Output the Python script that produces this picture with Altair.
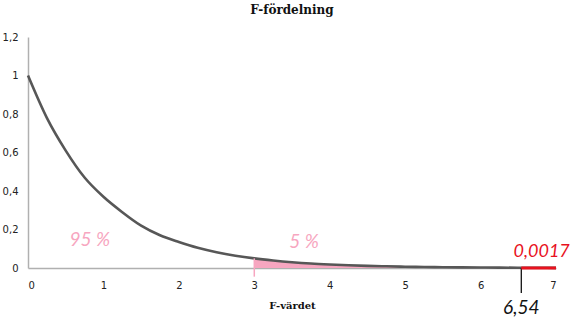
import altair as alt
import pandas as pd

# Curve values
fx = [0, 0.25, 0.5, 0.75, 1, 1.25, 1.5, 1.75, 2, 2.25, 2.5, 2.75, 3, 3.25, 3.5, 3.75,
      4, 4.25, 4.5, 4.75, 5, 5.25, 5.5, 5.75, 6, 6.25, 6.5, 6.75, 7]
fy = [1.0, 0.78, 0.61, 0.47, 0.37, 0.29, 0.22, 0.17, 0.135, 0.105, 0.082, 0.064, 0.05,
      0.039, 0.030, 0.023, 0.018, 0.014, 0.011, 0.0087, 0.0068, 0.0053, 0.0041, 0.0032,
      0.0025, 0.0019, 0.0015, 0.0012, 0.0009]

x_ticks = [0, 1, 2, 3, 4, 5, 6, 7]
y_ticks = [0, 0.2, 0.4, 0.6, 0.8, 1.0, 1.2]

crit_value = 6.54
tail_end = 7
shade_start = 3

labels_text = ["95 %", "5 %"]
labels_x = [0.82, 3.66]
labels_y = [0.145, 0.135]

p_label = "0,0017"
p_x, p_y = 6.81, 0.083
crit_label = "6,54"
crit_label_y = -0.21

curve = pd.DataFrame({"x": fx, "y": fy})
shade = curve[curve["x"] >= shade_start]

xs = alt.Scale(domain=[0, 7], nice=False)
ys = alt.Scale(domain=[0, 1.2], nice=False)

lbl_expr = "replace(format(datum.value, '.2~f'), '.', ',')"

ax_x = alt.Axis(title="F-värdet", values=x_ticks, grid=False, ticks=False,
                domainColor="#B0B0B0", domainWidth=1.5, labelFont="DejaVu Sans",
                labelFontSize=10, labelColor="#222222", labelPadding=12,
                labelOverlap=False,
                titleFont="DejaVu Serif", titleFontSize=10, titleFontWeight="bold",
                titleColor="#111111", titlePadding=10, labelExpr=lbl_expr)
ax_y = alt.Axis(title=None, values=y_ticks, grid=False,
                ticks=False, domainColor="#B0B0B0", domainWidth=1.5,
                labelFont="DejaVu Sans", labelFontSize=10, labelColor="#222222",
                labelPadding=10, labelOverlap=False, labelExpr=lbl_expr)

X = alt.X("x:Q", scale=xs, axis=ax_x)
Y = alt.Y("y:Q", scale=ys, axis=ax_y)

area = alt.Chart(shade).mark_area(color="#F7A6C0", opacity=1, interpolate="monotone").encode(
    x=X, y=Y)

line = alt.Chart(curve).mark_line(color="#575757", strokeWidth=2.6, interpolate="monotone").encode(
    x=X, y=Y)

pink_tick = alt.Chart(pd.DataFrame({"x": [shade_start], "y": [-0.045], "y2": [0.05]})).mark_rule(
    color="#F7A6C0", strokeWidth=1.5).encode(x=X, y=Y, y2="y2:Q")

crit_tick = alt.Chart(pd.DataFrame({"x": [crit_value], "y": [-0.13], "y2": [0]})).mark_rule(
    color="#111111", strokeWidth=1.3).encode(x=X, y=Y, y2="y2:Q")

red_line = alt.Chart(pd.DataFrame({"x": [crit_value], "x2": [tail_end], "y": [0]})).mark_rule(
    color="#E8121E", strokeWidth=3).encode(x=X, x2="x2:Q", y=Y)

pct = alt.Chart(pd.DataFrame({"t": labels_text, "x": labels_x, "y": labels_y})).mark_text(
    font="Lato", fontStyle="italic", fontSize=19, color="#F7A6C0").encode(
    x=X, y=Y, text="t:N")

ptext = alt.Chart(pd.DataFrame({"t": [p_label], "x": [p_x], "y": [p_y]})).mark_text(
    font="Lato", fontStyle="italic", fontSize=18, color="#E8121E").encode(
    x=X, y=Y, text="t:N")

ctext = alt.Chart(pd.DataFrame({"t": [crit_label], "x": [crit_value], "y": [crit_label_y]})).mark_text(
    font="Lato", fontStyle="italic", fontSize=19, color="#111111").encode(
    x=X, y=Y, text="t:N")

chart = alt.layer(area, line, pink_tick, crit_tick, red_line, pct, ptext, ctext).properties(
    width=528, height=231,
    title=alt.TitleParams("F-fördelning", font="DejaVu Serif", fontSize=12, fontWeight="bold",
                          color="#111111", offset=15, anchor="middle"),
    autosize=alt.AutoSizeParams(type="none"),
    padding={"left": 28, "top": 37, "right": 25, "bottom": 58},
).configure(background="white").configure_view(strokeWidth=0, stroke="transparent")

chart.save("out.html", embed_options={"renderer": "svg", "actions": False})
